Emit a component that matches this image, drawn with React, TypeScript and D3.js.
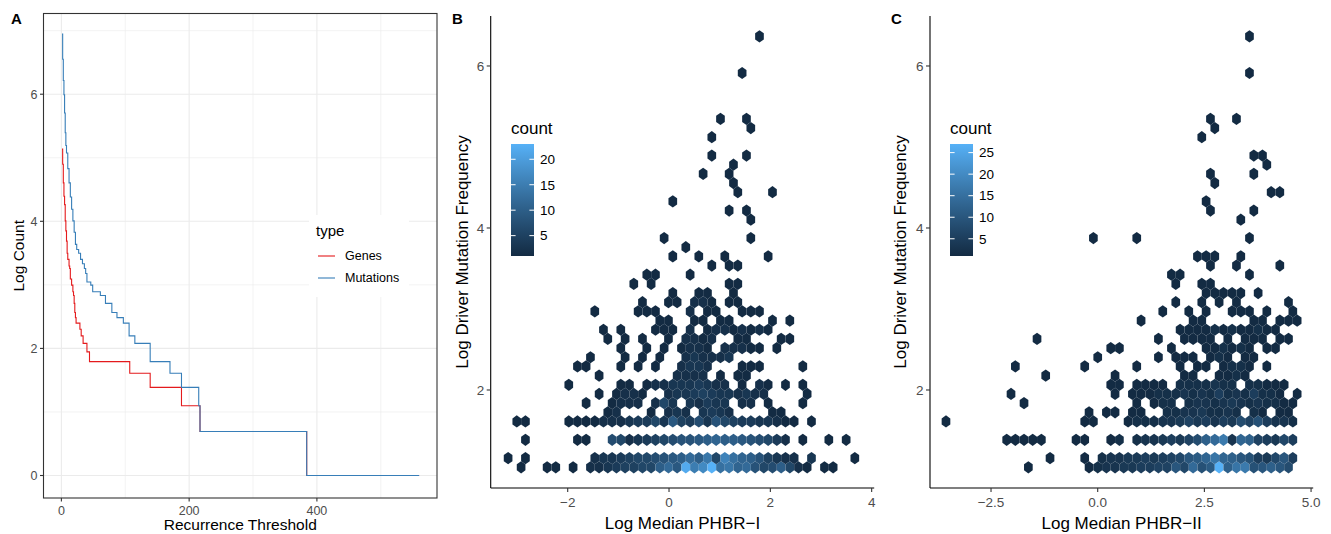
import React from 'react';
import * as d3 from 'd3';

const FONT = '"Liberation Sans", Arial, Helvetica, sans-serif';
const LOW = '#132B43';
const HIGH = '#56B1F7';

// ---- panel A: number of genes / mutations above each recurrence threshold
const geneThreshold = [1, 2, 3, 4, 5, 6, 7, 8, 9, 10, 12, 13, 14, 16, 18, 19, 20, 21, 22, 23, 29, 31, 34, 40, 44, 107, 139, 188, 217, 384, 560];
const geneCount = [170, 134, 100, 81, 71, 55, 47, 40, 33, 30, 27, 26, 22, 20, 18, 17, 15, 13, 12, 11, 10, 9, 8, 7, 6, 5, 4, 3, 2, 1, 1];
const mutThreshold = [1, 2, 3, 4, 5, 6, 7, 8, 10, 12, 14, 16, 18, 20, 22, 24, 27, 30, 33, 36, 38, 40, 46, 49, 61, 69, 79, 87, 97, 106, 115, 139, 170, 188, 215, 217, 384, 560];
const mutCount = [1040, 700, 500, 400, 300, 220, 180, 160, 125, 100, 80, 66, 55, 46, 38, 35, 33, 30, 28, 26, 24, 21, 20, 18, 17, 15, 13, 12, 11, 9, 8, 6, 5, 4, 3, 2, 1, 1];
const thresholdTicks = [0, 200, 400];
const thresholdMinor = [100, 300, 500];
const logCountTicks = [0, 2, 4, 6];
const logCountMinor = [1, 3, 5, 7];
const typeNames = ['Genes', 'Mutations'];
const typeColors = ['#E41A1C', '#377EB8'];

// ---- panels B and C: hexagon bins. one string per hex row (bottom row first),
// "firstColumn:cells", each cell a base-36 count, '.' = empty bin
const HEX_Y0 = 1.0457;
const HEX_ROW = 0.1132;
const binB = { x0: -3.262, width: 0.1711 };
const binC = { x0: -3.657, width: 0.2032 };

const hexRowsB = [
  '2:1..11.1.22345566ac9mfhndebc867a621.11',
  '0:1.1.......2334566789acae6gdba85322.3....1',
  '',
  '2:1.....11..76234567889abaa987642.1..1.1',
  '',
  '1:11....111122234463954738654433211.1',
  '12:12...1.232.3432....11',
  '9:1..1222.263.32433.22.1...1',
  '11:1.1221..233454332322....1',
  '7:1.....11.1223334322.1.21.1.1',
  '11:1........2222.1.11',
  '8:11...1.1.1..2332...111....1',
  '10:1...1.1.1..232223',
  '13:1..1.1.1221.22211.1',
  '12:1.1.1..1.2212..11...11',
  '11:1.1...111.2.12212121',
  '18:11..11.11....1.1',
  '10:1....111...2.11..111',
  '16:1..11.221.11',
  '19:1..11..1',
  '15:1.1........11',
  '16:11...1',
  '24:1.11',
  '19:1..1..1....1',
  '21:1',
  '18:1.........1',
  '',
  '28:1',
  '26:1.1',
  '19:1',
  '27:1...1',
  '26:1',
  '23:1..1',
  '26:1',
  '24:1...1',
  '',
  '24:1',
  '28:1',
  '25:1..1',
  '', '', '', '',
  '27:1',
  '', '', '',
  '29:1',
];

const hexRowsC = [
  '10:1......1233445566a7e9brcgh9aca8',
  '12:1...1.2334454567abdgdca9547a5',
  '',
  '7:11111...11..12.23345468ceh3dc65475',
  '',
  '0:1...............11...12223346453548695332',
  '17:1.11.11..223342232.21.11',
  '9:1............1.122.2332343232211',
  '8:1...........1.111222323252325221.1',
  '19:11.1111.2222322.22111',
  '12:1.......1.......11..1121',
  '8:1.......1.....1....1.11.1221.1',
  '18:1......1.111.121.11',
  '19:11.....1...112121.11',
  '11:1.............1..1111.1.111.11',
  '27:111121211211',
  '23:1.....11.....11.111',
  '25:1..1.1..111.1..1',
  '27:1..1.1.1.....1',
  '30:11111.1',
  '27:1..11',
  '26:11.......1',
  '31:1..1....1',
  '29:111..1',
  '',
  '17:1....1............1',
  '',
  '34:1',
  '31:1....1',
  '30:1',
  '38:11',
  '31:1',
  '31:1....1',
  '37:1',
  '36:11',
  '',
  '30:1',
  '31:1',
  '31:1..1',
  '', '', '', '',
  '35:1',
  '', '', '',
  '35:1',
];

const phbr1Ticks = [-2, 0, 2, 4];
const phbr2Ticks = [-2.5, 0, 2.5, 5];
const freqTicks = [2, 4, 6];
const countTicksB = [5, 10, 15, 20];
const countTicksC = [5, 10, 15, 20, 25];
const countMaxB = 23;
const countMaxC = 27;

type Cell = { x: number; y: number; count: number };

function parseHexRows(rows: string[], x0: number, width: number): Cell[] {
  const cells: Cell[] = [];
  rows.forEach((row, r) => {
    if (!row) return;
    const [start, chars] = row.split(':');
    for (let i = 0; i < chars.length; i++) {
      if (chars[i] === '.') continue;
      const col = +start + i + (r % 2 ? 0.5 : 0);
      cells.push({ x: x0 + col * width, y: HEX_Y0 + r * HEX_ROW, count: parseInt(chars[i], 36) });
    }
  });
  return cells;
}

const yFreq = d3.scaleLinear().domain([0.79, 6.617]).range([488, 16]);

function HexPanel(props: {
  id: string;
  cells: Cell[];
  x: d3.ScaleLinear<number, number>;
  binWidth: number;
  xTicks: number[];
  fmt: (v: number) => string;
  xTitle: string;
  yTitleX: number;
  legendX: number;
  maxCount: number;
  countTicks: number[];
}) {
  const { id, cells, x, binWidth, xTicks, fmt, xTitle, yTitleX, legendX, maxCount, countTicks } = props;
  const y = yFreq;
  const [xl, xr] = x.range();
  const [yb, yt] = y.range();
  const color = d3.scaleLinear<string>().domain([1, maxCount]).range([LOW, HIGH]).interpolate(d3.interpolateLab);
  const hw = (x(binWidth) - x(0)) / 2;
  const rv = ((y(0) - y(HEX_ROW)) * 2) / 3;
  const hex = `M0,${-rv}L${hw},${-rv / 2}L${hw},${rv / 2}L0,${rv}L${-hw},${rv / 2}L${-hw},${-rv / 2}Z`;

  const barW = 23;
  const barY = d3.scaleLinear().domain([1, maxCount]).range([256, 144]);
  const stops = d3.range(0, 1.0001, 0.1);

  return (
    <g>
      <defs>
        <linearGradient id={id} x1="0" y1="1" x2="0" y2="0">
          {stops.map(t => (
            <stop key={t} offset={t} stopColor={color(1 + t * (maxCount - 1))} />
          ))}
        </linearGradient>
      </defs>
      {cells.map((c, i) => (
        <path key={i} d={hex} transform={`translate(${x(c.x)},${y(c.y)})`} fill={color(c.count)} />
      ))}
      <line x1={xl} x2={xr} y1={yb} y2={yb} stroke="#000" strokeWidth={1.1} />
      <line x1={xl} x2={xl} y1={yb} y2={yt} stroke="#000" strokeWidth={1.1} />
      {xTicks.map(t => (
        <g key={t}>
          <line x1={x(t)} x2={x(t)} y1={yb} y2={yb + 4} stroke="#333" strokeWidth={1.1} />
          <text x={x(t)} y={yb + 19} textAnchor="middle" fontSize={13.5} fill="#4D4D4D">{fmt(t)}</text>
        </g>
      ))}
      {freqTicks.map(t => (
        <g key={t}>
          <line x1={xl - 4} x2={xl} y1={y(t)} y2={y(t)} stroke="#333" strokeWidth={1.1} />
          <text x={xl - 6.5} y={y(t) + 4.8} textAnchor="end" fontSize={13.5} fill="#4D4D4D">{t}</text>
        </g>
      ))}
      <text x={(xl + xr) / 2} y={529} textAnchor="middle" fontSize={17} fill="#000">{xTitle}</text>
      <text transform={`translate(${yTitleX},${(yb + yt) / 2}) rotate(-90)`} textAnchor="middle" fontSize={17} fill="#000">
        Log Driver Mutation Frequency
      </text>
      <text x={legendX} y={134} fontSize={17} fill="#000">count</text>
      <rect x={legendX} y={144} width={barW} height={112} fill={`url(#${id})`} />
      {countTicks.map(t => (
        <g key={t}>
          <line x1={legendX} x2={legendX + 4.6} y1={barY(t)} y2={barY(t)} stroke="#fff" strokeWidth={1} />
          <line x1={legendX + barW - 4.6} x2={legendX + barW} y1={barY(t)} y2={barY(t)} stroke="#fff" strokeWidth={1} />
          <text x={legendX + 29} y={barY(t) + 4.8} fontSize={13.5} fill="#000">{t}</text>
        </g>
      ))}
    </g>
  );
}

function RecurrencePanel() {
  const x = d3.scaleLinear().domain([-28, 588]).range([43.5, 437]);
  const y = d3.scaleLinear().domain([-0.354, 7.27]).range([498, 13.5]);
  const [xl, xr] = x.range();
  const [yb, yt] = y.range();
  const line = d3
    .line<[number, number]>()
    .x(d => x(d[0]))
    .y(d => y(Math.log(d[1])))
    .curve(d3.curveStepAfter);
  const series = [
    d3.zip(geneThreshold, geneCount) as [number, number][],
    d3.zip(mutThreshold, mutCount) as [number, number][],
  ];
  const legendTop = 215;

  return (
    <g>
      <rect x={xl} y={yt} width={xr - xl} height={yb - yt} fill="#fff" />
      {thresholdMinor.map(t => (
        <line key={t} x1={x(t)} x2={x(t)} y1={yb} y2={yt} stroke="#EBEBEB" strokeWidth={0.6} />
      ))}
      {logCountMinor.map(t => (
        <line key={t} x1={xl} x2={xr} y1={y(t)} y2={y(t)} stroke="#EBEBEB" strokeWidth={0.6} />
      ))}
      {thresholdTicks.map(t => (
        <line key={t} x1={x(t)} x2={x(t)} y1={yb} y2={yt} stroke="#EBEBEB" strokeWidth={1.1} />
      ))}
      {logCountTicks.map(t => (
        <line key={t} x1={xl} x2={xr} y1={y(t)} y2={y(t)} stroke="#EBEBEB" strokeWidth={1.1} />
      ))}
      {series.map((s, i) => (
        <path key={i} d={line(s) || ''} fill="none" stroke={typeColors[i]} strokeWidth={1.1} />
      ))}
      <rect x={xl} y={yt} width={xr - xl} height={yb - yt} fill="none" stroke="#333" strokeWidth={1.1} />
      {thresholdTicks.map(t => (
        <g key={t}>
          <line x1={x(t)} x2={x(t)} y1={yb} y2={yb + 3.5} stroke="#333" strokeWidth={1.1} />
          <text x={x(t)} y={yb + 16.5} textAnchor="middle" fontSize={12.5} fill="#4D4D4D">{t}</text>
        </g>
      ))}
      {logCountTicks.map(t => (
        <g key={t}>
          <line x1={xl - 3.5} x2={xl} y1={y(t)} y2={y(t)} stroke="#333" strokeWidth={1.1} />
          <text x={xl - 6} y={y(t) + 4.4} textAnchor="end" fontSize={12.5} fill="#4D4D4D">{t}</text>
        </g>
      ))}
      <text x={(xl + xr) / 2} y={530} textAnchor="middle" fontSize={15.5} fill="#000">Recurrence Threshold</text>
      <text transform={`translate(23.5,${(yb + yt) / 2}) rotate(-90)`} textAnchor="middle" fontSize={15.5} fill="#000">
        Log Count
      </text>
      <rect x={309} y={legendTop} width={100} height={82} fill="#fff" />
      <text x={316} y={legendTop + 20.5} fontSize={15} fill="#000">type</text>
      {typeNames.map((n, i) => (
        <g key={n}>
          <line x1={318} x2={335} y1={legendTop + 41 + i * 22} y2={legendTop + 41 + i * 22} stroke={typeColors[i]} strokeWidth={1.1} />
          <text x={345} y={legendTop + 41 + i * 22 + 4.4} fontSize={12.5} fill="#000">{n}</text>
        </g>
      ))}
    </g>
  );
}

export default function App() {
  const xB = d3.scaleLinear().domain([-3.52, 4.05]).range([490.7, 874.2]);
  const xC = d3.scaleLinear().domain([-3.93, 5.05]).range([930, 1313.2]);
  const cellsB = parseHexRows(hexRowsB, binB.x0, binB.width);
  const cellsC = parseHexRows(hexRowsC, binC.x0, binC.width);

  return (
    <svg
      width={1331}
      height={534}
      style={{ position: 'absolute', left: 0, top: 0, background: '#fff' }}
      fontFamily={FONT}
    >
      <rect width={1331} height={534} fill="#fff" />
      <RecurrencePanel />
      <HexPanel
        id="gradB"
        cells={cellsB}
        x={xB}
        binWidth={binB.width}
        xTicks={phbr1Ticks}
        fmt={v => (v < 0 ? '\u2212' + Math.abs(v) : String(v))}
        xTitle={'Log Median PHBR\u2212I'}
        yTitleX={467.5}
        legendX={511}
        maxCount={countMaxB}
        countTicks={countTicksB}
      />
      <HexPanel
        id="gradC"
        cells={cellsC}
        x={xC}
        binWidth={binC.width}
        xTicks={phbr2Ticks}
        fmt={v => (v < 0 ? '\u2212' + Math.abs(v).toFixed(1) : v.toFixed(1))}
        xTitle={'Log Median PHBR\u2212II'}
        yTitleX={906}
        legendX={950}
        maxCount={countMaxC}
        countTicks={countTicksC}
      />
      <text x={11} y={24} fontSize={15} fontWeight="bold" fill="#000">A</text>
      <text x={452} y={24} fontSize={15} fontWeight="bold" fill="#000">B</text>
      <text x={891} y={24} fontSize={15} fontWeight="bold" fill="#000">C</text>
    </svg>
  );
}
